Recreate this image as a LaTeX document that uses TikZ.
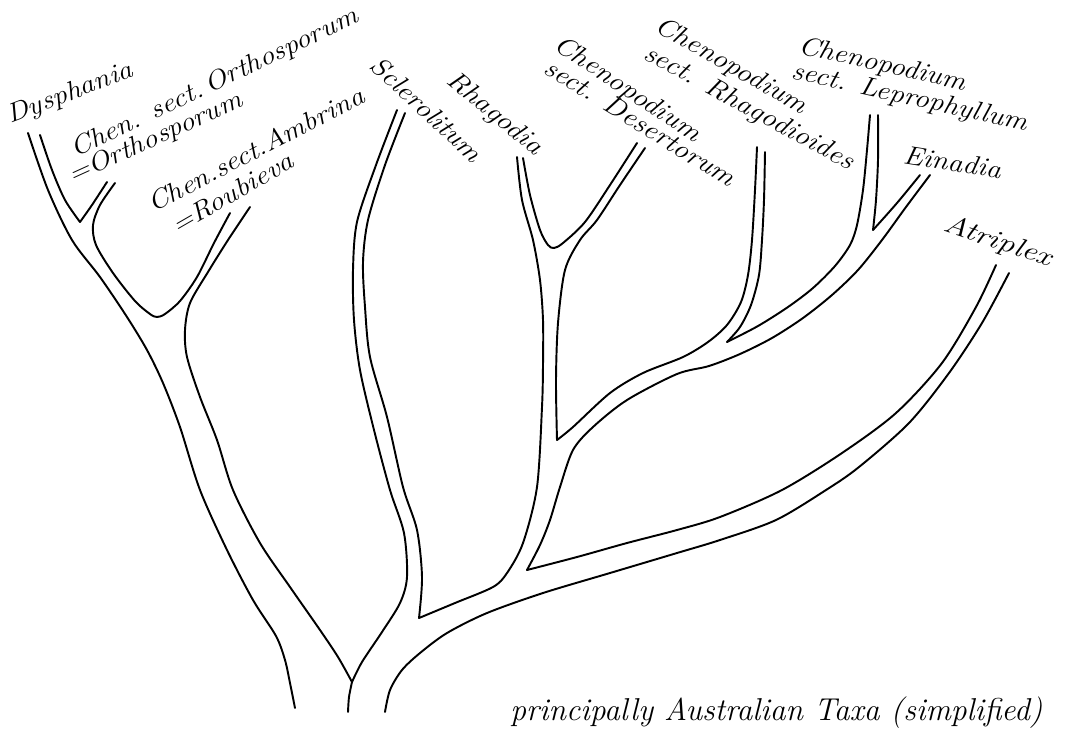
\documentclass[tikz,border=0pt]{standalone}
\usepackage{graphicx}
\usepackage{tikz}

% pen lettering: a little wider than Latin Modern
\newcommand{\pen}[1]{\scalebox{1.13}[1]{#1}}

\begin{document}
\begin{tikzpicture}[x=0.02cm, y=-0.02cm,
    branch/.style={line width=1.1pt, line cap=round, line join=round},
    taxon/.style={font=\fontsize{15}{17}\selectfont\itshape, anchor=base west, inner sep=0pt}]
  \useasboundingbox (0,0) rectangle (1069,735);
  % left clade: Dysphania, Orthosporum, Roubieva
  \draw[branch] plot[smooth] coordinates
    {(28,133) (48,190) (72,240) (100,277) (127,317) (147,350) (163,383)
     (180,427) (200,490) (227,550) (253,600) (276,636) (285,660) (290,683) (295,708)};
  \draw[branch] plot[smooth] coordinates {(40,135) (52,170) (65,200) (80,222)};
  \draw[branch] plot[smooth] coordinates {(80,222) (92,205) (107,182)};
  \draw[branch] plot[smooth] coordinates
    {(115,183) (100,205) (93,225) (96,245) (113,273) (135,301) (150,314)
     (157,317) (165,314) (180,301) (197,277) (214,243) (230,213)};
  \draw[branch] plot[smooth] coordinates
    {(250,207) (228,240) (208,272) (190,303) (185,330) (187,357) (200,397)
     (217,440) (233,490) (260,543) (290,587) (320,630) (338,657) (352,682)};
  % middle trunk
  \draw[branch] plot[smooth] coordinates {(352,682) (349,697) (348,712)};
  % Sclerolitum
  \draw[branch] plot[smooth] coordinates
    {(352,682) (362,662) (382,632) (400,603) (407,577) (404,533) (390,490)
     (374,430) (360,370) (354,320) (353,270) (357,222) (376,165) (397,110)};
  \draw[branch] plot[smooth] coordinates
    {(405,113) (385,165) (368,220) (363,262) (365,307) (370,357) (387,417)
     (403,487) (417,530) (422,577) (419,618)};
  % Rhagodia and Chenopodium sect. Desertorum
  \draw[branch] plot[smooth] coordinates
    {(419,618) (455,603) (493,587) (507,573) (523,543) (537,487) (542,407)
     (543,365) (543,320) (540,280) (533,240) (522,200) (517,157)};
  \draw[branch] plot[smooth] coordinates
    {(523,158) (530,195) (540,230) (548,245) (554,248) (563,243) (585,222)
     (610,185) (637,143)};
  \draw[branch] plot[smooth] coordinates
    {(645,148) (620,185) (597,220) (580,240) (565,270) (558,323) (556,380) (557,440)};
  % Rhagodioides, Leprophyllum, Einadia
  \draw[branch] plot[smooth] coordinates
    {(557,440) (573,427) (610,393) (643,373) (683,357) (708,342) (727,325)
     (741,302) (748,275) (752,240) (755,190) (757,147)};
  \draw[branch] plot[smooth] coordinates
    {(765,152) (764,200) (762,240) (759,275) (751,305) (740,327) (727,342)};
  \draw[branch] plot[smooth] coordinates
    {(727,342) (758,326) (788,307) (813,288) (835,266) (850,245) (857,225)
     (863,190) (867,150) (870,115)};
  \draw[branch] plot[smooth] coordinates {(878,115) (878,160) (876,200) (873,230)};
  \draw[branch] plot[smooth] coordinates {(873,230) (897,203) (920,175)};
  \draw[branch] plot[smooth] coordinates
    {(930,175) (906,207) (882,240) (858,270) (832,295) (803,318) (772,338)
     (740,354) (709,366) (677,374) (627,400) (593,427) (573,450) (560,487)
     (550,520) (540,545) (527,570)};
  % Atriplex
  \draw[branch] plot[smooth] coordinates
    {(527,570) (577,557) (627,543) (677,530) (720,517) (782,490) (842,453)
     (896,413) (942,363) (976,307) (996,265)};
  \draw[branch] plot[smooth] coordinates
    {(385,712) (390,690) (402,670) (420,653) (447,633) (487,613) (543,593)
     (610,573) (677,553) (720,540) (776,520) (826,490) (859,467) (909,423)
     (949,373) (982,323) (1009,273)};
  % taxa
  \node[taxon, rotate=21] (dys) at (10,124) {\pen{Dysphania}};
  \node[taxon, rotate=25.6] (orth) at (75,158) {\pen{Chen. sect.\,Orthosporum}};
  \node[taxon, rotate=24.5] (orth2) at (72,184) {\pen{=Orthosporum}};
  \node[taxon, rotate=27.5] (amb) at (153,213) {\pen{Chen.sect.Ambrina}};
  \node[taxon, rotate=30] (amb2) at (177,235) {\pen{=Roubieva}};
  \node[taxon, rotate=-42.8] (scl) at (368,67) {\pen{Sclerolitum}};
  \node[taxon, rotate=-39.6] (rha) at (445,82) {\pen{Rhagodia}};
  \node[taxon, rotate=-33.6] (des) at (552,48) {\pen{Chenopodium}};
  \node[taxon, rotate=-31.7] (des2) at (542,72) {\pen{sect. Desertorum}};
  \node[taxon, rotate=-29.5] (rhd) at (653,30) {\pen{Chenopodium}};
  \node[taxon, rotate=-28.5] (rhd2) at (642,58) {\pen{sect. Rhagodioides}};
  \node[taxon, rotate=-12.6] (lep) at (797,53) {\pen{Chenopodium}};
  \node[taxon, rotate=-12.7] (lep2) at (790,78) {\pen{sect. Leprophyllum}};
  \node[taxon, rotate=-9] (ein) at (902,163) {\pen{Einadia}};
  \node[taxon, rotate=-19] (atr) at (942,230) {\pen{\scalebox{1.12}[1]{Atriplex}}};
  \node[taxon, font=\fontsize{18}{20}\selectfont\itshape] (note) at (510,720)
    {principally Australian Taxa (simplified)};
\end{tikzpicture}
\end{document}
